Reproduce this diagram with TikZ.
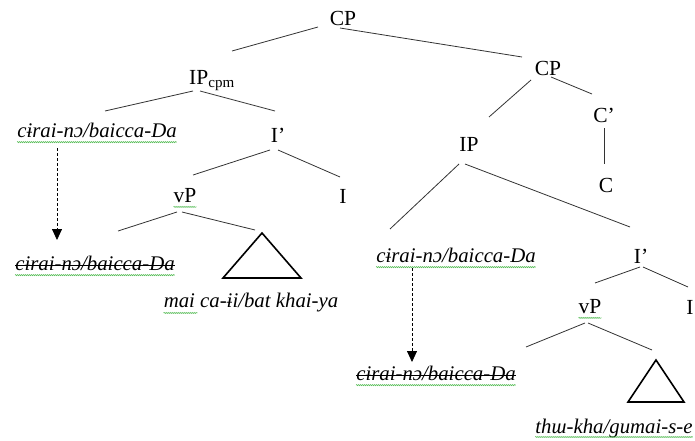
\documentclass[tikz,border=0pt]{standalone}
\usepackage{fontspec}
\setmainfont{Liberation Serif}
\usetikzlibrary{arrows.meta,decorations.pathmorphing}
\begin{document}
\begin{tikzpicture}[x=1pt,y=-1pt,
  every node/.style={inner sep=0pt,font=\fontsize{21.5}{25}\selectfont},
  ling/.style={font=\fontsize{20.8}{25}\selectfont\itshape},
  branch/.style={draw=black!80, line width=0.8pt},
  tri/.style={draw=black, line width=1.6pt, line join=miter},
  mv/.style={draw=black, dash pattern=on 3pt off 2pt, line width=0.8pt, -{Triangle[width=10pt,length=11pt]}},
  spell/.style={draw=green!60!black!70, line width=0.5pt, decorate, decoration={snake,amplitude=0.6pt,segment length=2pt}},
  strike/.style={draw=black, line width=1pt}]
\path[use as bounding box] (0,0) rectangle (695,441);

% ---- nodes
\node (cp) at (343,18) {CP};
\node (ipcpm) at (212,81) {IP\textsubscript{cpm}};
\node[ling] (dpA) at (97,130) {cɨrai-nɔ/baicca-Da};
\node (ibarA) at (278,135) {I’};
\node (vpA) at (185,196) {vP};
\node (iA) at (343,196) {I};
\node[ling] (trA) at (95,263) {cɨrai-nɔ/baicca-Da};
\coordinate (triA) at (262,233);
\node[ling] (maiT) at (251,303) {mai ca-ɨi/bat khai-ya};

\node (cpB) at (548,68) {CP};
\node (cbar) at (604,115) {C’};
\node (cnode) at (606,185) {C};
\node (ipB) at (469,144) {IP};
\node[ling] (dpB) at (456,255) {cɨrai-nɔ/baicca-Da};
\node (ibarB) at (641,256) {I’};
\node (vpB) at (590,307) {vP};
\node (iB) at (690,307) {I};
\node[ling] (trB) at (436,373) {cɨrai-nɔ/baicca-Da};
\coordinate (triB) at (656,360);
\node[ling] (thuT) at (614,428) {thɯ-kha/gumai-s-e};

% ---- branches
\draw[branch] ([shift={(-25,9)}]cp.center) -- ([shift={(20,-30)}]ipcpm.center);
\draw[branch] ([shift={(-3,10)}]cp.center) -- ([shift={(-26,-11)}]cpB.center);
\draw[branch] ([shift={(-19,10)}]ipcpm.center) -- ([shift={(8,-19)}]dpA.center);
\draw[branch] ([shift={(-12,10)}]ipcpm.center) -- ([shift={(-3,-24)}]ibarA.center);
\draw[branch] ([shift={(-8,15)}]ibarA.center) -- ([shift={(8,-21)}]vpA.center);
\draw[branch] ([shift={(0,15)}]ibarA.center) -- ([shift={(-3,-19)}]iA.center);
\draw[branch] ([shift={(-8,16)}]vpA.center) -- ([shift={(23,-32)}]trA.center);
\draw[branch] ([shift={(-3,16)}]vpA.center) -- ([shift={(-7,-3)}]triA);

\draw[branch] ([shift={(-17,12)}]cpB.center) -- ([shift={(20,-27)}]ipB.center);
\draw[branch] ([shift={(3,9)}]cpB.center) -- ([shift={(-12,-21)}]cbar.center);
\draw[branch] ([shift={(0,13)}]cbar.center) -- ([shift={(-2,-21)}]cnode.center);
\draw[branch] ([shift={(-10,20)}]ipB.center) -- ([shift={(-66,-26)}]dpB.center);
\draw[branch] ([shift={(-4,20)}]ipB.center) -- ([shift={(-11,-29)}]ibarB.center);
\draw[branch] ([shift={(-1,11)}]ibarB.center) -- ([shift={(5,-24)}]vpB.center);
\draw[branch] ([shift={(2,11)}]ibarB.center) -- ([shift={(-2,-20)}]iB.center);
\draw[branch] ([shift={(-5,16)}]vpB.center) -- ([shift={(90,-26)}]trB.center);
\draw[branch] ([shift={(-2,16)}]vpB.center) -- ([shift={(-4,-10)}]triB);

% ---- triangles
\draw[tri] (triA) -- ++(-39,45) -- ++(78,0) -- cycle;
\draw[tri] (triB) -- ++(-28,42) -- ++(56,0) -- cycle;

% ---- movement arrows
\draw[mv] ([shift={(-40,18)}]dpA.center) -- ([shift={(-38,-23)}]trA.center);
\draw[mv] ([shift={(-44,13)}]dpB.center) -- ([shift={(-24,-11)}]trB.center);

% ---- strike-through of traces
\draw[strike] ([yshift=5pt]trA.base west) -- ([yshift=5pt]trA.base east);
\draw[strike] ([yshift=5pt]trB.base west) -- ([yshift=5pt]trB.base east);

% ---- spell-check underlines
\draw[spell] ([yshift=-5pt]dpA.base west) -- ([yshift=-5pt]dpA.base east);
\draw[spell] ([yshift=-5pt]trA.base west) -- ([yshift=-5pt]trA.base east);
\draw[spell] ([yshift=-5pt]dpB.base west) -- ([yshift=-5pt]dpB.base east);
\draw[spell] ([yshift=-5pt]trB.base west) -- ([yshift=-5pt]trB.base east);
\draw[spell] ([yshift=-5pt]maiT.base west) -- ([yshift=-5pt,xshift=34pt]maiT.base west);
\draw[spell] ([yshift=-4pt]thuT.base west) -- ([yshift=-4pt]thuT.base east);
\draw[spell] ([yshift=-4pt]vpA.base west) -- ([yshift=-4pt]vpA.base east);
\draw[spell] ([yshift=-4pt]vpB.base west) -- ([yshift=-4pt]vpB.base east);
\end{tikzpicture}
\end{document}
